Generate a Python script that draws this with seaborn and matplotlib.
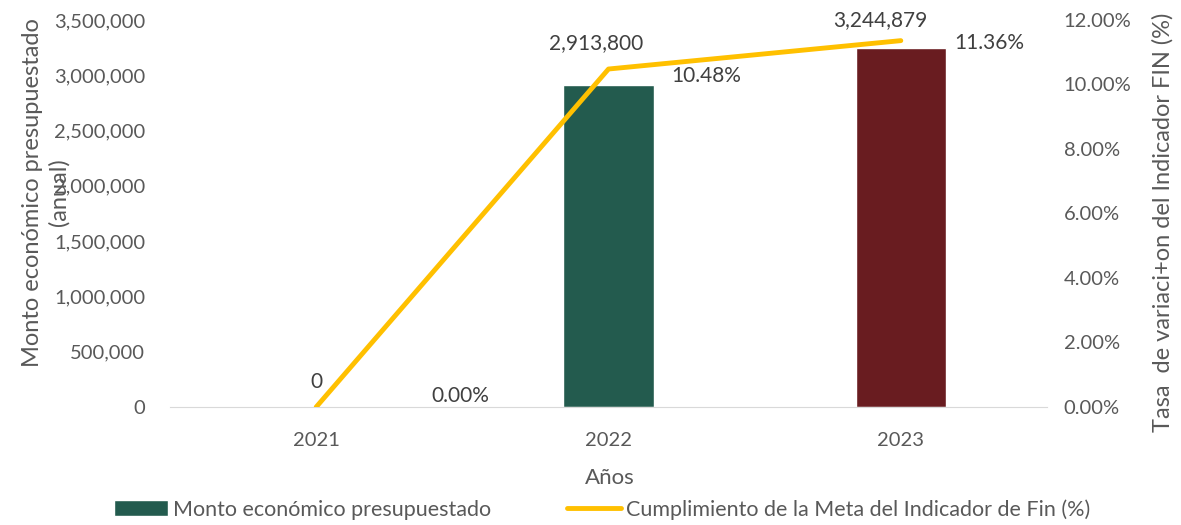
import numpy as np
import pandas as pd
import matplotlib
matplotlib.use("Agg")
import matplotlib.pyplot as plt
from matplotlib.patches import Patch
from matplotlib.lines import Line2D
from matplotlib.ticker import FuncFormatter
import seaborn as sns

years = ["2021", "2022", "2023"]
monto = [0, 2913800, 3244879]
cumplimiento = [0.0, 10.48, 11.36]
bar_colors = ["#235B4E", "#235B4E", "#691C20"]
line_color = "#FFC000"

sns.set_style("white")
plt.rcParams["font.family"] = ["Lato", "DejaVu Sans"]
txt = "#595959"

df = pd.DataFrame({"anio": years, "monto": monto, "pct": cumplimiento})
df["pos"] = np.arange(len(years))

fig = plt.figure(figsize=(11.81, 5.25), dpi=100)
ax = fig.add_axes([0.144, 0.2248, 0.7425, 0.7371])

sns.barplot(data=df, x="anio", y="monto", hue="anio", palette=bar_colors,
            width=0.31, legend=False, ax=ax, saturation=1)
ax.set_ylim(0, 3500000)
ax.set_yticks(np.arange(0, 3500001, 500000))
ax.yaxis.set_major_formatter(FuncFormatter(lambda v, p: f"{v:,.0f}"))
ax.set_xlim(-0.5, 2.5)
ax.set_xlabel("")
ax.set_ylabel("")
ax.tick_params(axis="both", length=0, labelsize=14.5, labelcolor=txt)
ax.tick_params(axis="x", pad=18)
ax.tick_params(axis="y", pad=18)
for s in ["top", "left", "right"]:
    ax.spines[s].set_visible(False)
ax.spines["bottom"].set_color("#D9D9D9")

ax2 = ax.twinx()
sns.lineplot(data=df, x="pos", y="pct", color=line_color, linewidth=3.5, ax=ax2)
ax2.set_ylim(0, 12)
ax2.set_yticks(np.arange(0, 12.1, 2))
ax2.yaxis.set_major_formatter(FuncFormatter(lambda v, p: f"{v:.2f}%"))
ax2.set_xlim(-0.5, 2.5)
ax2.set_xlabel("")
ax2.set_ylabel("")
ax2.tick_params(axis="y", length=0, labelsize=14.5, labelcolor=txt, pad=12)
for s in ["top", "left", "right", "bottom"]:
    ax2.spines[s].set_visible(False)

# etiquetas de barras
bar_off = [(0, 11), (-9, 23), (-15, 13)]
for i, v in enumerate(monto):
    ax.annotate(f"{v:,.0f}", (i, v), xytext=bar_off[i], textcoords="offset points",
                ha="center", va="bottom", fontsize=15, color="#404040")

# etiquetas de linea
line_off = [(104, 8), (70, -5), (64, -2)]
for i, v in enumerate(cumplimiento):
    ax2.annotate(f"{v:.2f}%", (i, v), xytext=line_off[i], textcoords="offset points",
                 ha="center", va="center", fontsize=15, color="#404040")

fig.text(0.039, 0.634, "Monto económico presupuestado\n(anual)", rotation=90,
         ha="center", va="center", fontsize=17, color=txt, multialignment="center",
         linespacing=1.3)
fig.text(0.985, 0.577, "Tasa  de variaci+on del Indicador FIN (%)", rotation=90,
         ha="center", va="center", fontsize=17, color=txt)
fig.text(0.516, 0.09, "Años", ha="center", va="center", fontsize=16, color=txt)

handles = [Patch(facecolor="#235B4E"),
           Line2D([0], [0], color=line_color, linewidth=3.5)]
labels = ["Monto económico presupuestado",
          "Cumplimiento de la Meta del Indicador de Fin (%)"]
fig.legend(handles, labels, loc="center", bbox_to_anchor=(0.51, 0.03), ncol=2,
           frameon=False, fontsize=15.5, labelcolor=txt, handlelength=2.5,
           handletextpad=0.25, columnspacing=3.5)

fig.savefig("out.png", dpi=100)
